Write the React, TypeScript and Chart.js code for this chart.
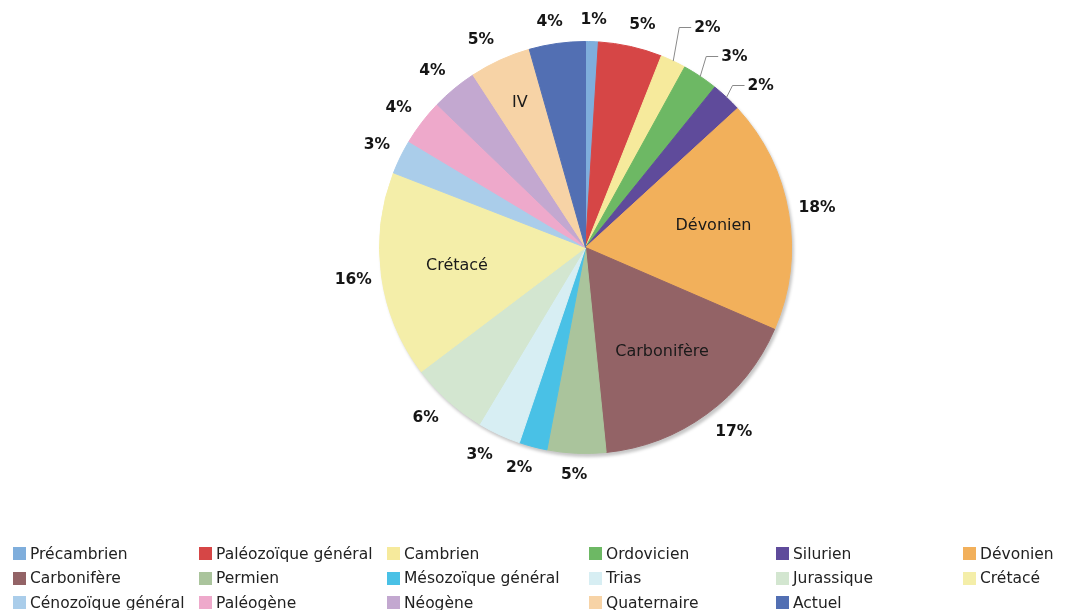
import React, { useEffect, useRef } from "react";
import { Chart, registerables } from "chart.js";

Chart.register(...registerables);

const periods = [
  "Précambrien", "Paléozoïque général", "Cambrien", "Ordovicien", "Silurien", "Dévonien",
  "Carbonifère", "Permien", "Mésozoïque général", "Trias", "Jurassique", "Crétacé",
  "Cénozoïque général", "Paléogène", "Néogène", "Quaternaire", "Actuel",
];
const shares = [1.0, 5.0, 2.0, 2.8, 2.4, 18.3, 16.9, 4.6, 2.2, 3.4, 6.1, 16.2, 2.7, 3.6, 3.6, 4.8, 4.4];
const colors = [
  "#7FAEDC", "#D64646", "#F6EA9C", "#6DB864", "#5F4B9B", "#F2B05B",
  "#936366", "#AAC49C", "#49C1E6", "#D7EEF3", "#D3E6D0", "#F4EEA9",
  "#AACDEA", "#EEA9CB", "#C3A8D0", "#F7D3A6", "#526FB3",
];
const innerLabels = ["", "", "", "", "", "Dévonien", "Carbonifère", "", "", "", "", "Crétacé", "", "", "", "IV", ""];
const calloutSlices = ["Cambrien", "Ordovicien", "Silurien"];

const legendCols = [13, 199, 387, 589, 776, 963];
const legendRows = [553.5, 578, 602.5];

const clamp = (v: number) => Math.max(-1, Math.min(1, v));

const pieLabels = {
  id: "pieLabels",
  beforeDatasetsDraw(chart: any) {
    const arc = chart.getDatasetMeta(0).data[0];
    if (!arc) return;
    const { x, y, outerRadius } = arc.getProps(["x", "y", "outerRadius"], true);
    const ctx = chart.ctx;
    ctx.save();
    ctx.beginPath();
    ctx.arc(x + 2, y + 3, outerRadius + 0.5, 0, Math.PI * 2);
    ctx.fillStyle = "rgba(0,0,0,0.22)";
    ctx.filter = "blur(1.5px)";
    ctx.fill();
    ctx.restore();
  },
  afterDatasetsDraw(chart: any) {
    const meta = chart.getDatasetMeta(0);
    const ds = chart.data.datasets[0].data as number[];
    const total = ds.reduce((a, b) => a + b, 0);
    const labels = chart.data.labels as string[];
    const ctx = chart.ctx;
    ctx.save();
    let k = 0;
    meta.data.forEach((arc: any, i: number) => {
      const { x, y, startAngle, endAngle, outerRadius: R } = arc.getProps(
        ["x", "y", "startAngle", "endAngle", "outerRadius"], true);
      const mid = (startAngle + endAngle) / 2;
      const c = Math.cos(mid), s = Math.sin(mid);
      const pct = Math.round((ds[i] / total) * 100) + "%";
      ctx.font = 'bold 15.5px "DejaVu Sans"';
      ctx.fillStyle = "#151515";
      if (calloutSlices.includes(labels[i])) {
        const sx = x + c * R, sy = y + s * R;
        const ey = y - R - 14 + 29 * k;
        const ex = sx + 6;
        const endX = ex + 12;
        ctx.strokeStyle = "#8a8a8a";
        ctx.lineWidth = 1;
        ctx.beginPath();
        ctx.moveTo(sx, sy);
        ctx.lineTo(ex, ey);
        ctx.lineTo(endX, ey);
        ctx.stroke();
        ctx.textAlign = "left";
        ctx.textBaseline = "middle";
        ctx.fillText(pct, endX + 3, ey);
        k++;
      } else {
        const w = ctx.measureText(pct).width;
        const h = 14;
        const gap = 9 + 6 * Math.abs(s);
        const px = x + c * (R + gap), py = y + s * (R + gap);
        ctx.textAlign = "center";
        ctx.textBaseline = "middle";
        ctx.fillText(pct, px + (w / 2) * clamp(3 * c), py + (h / 2) * clamp(3 * s));
      }
      const inner = innerLabels[i];
      if (inner) {
        const span = endAngle - startAngle;
        const r = span < 0.45 ? 0.77 * R : 0.63 * R;
        ctx.font = '16px "DejaVu Sans"';
        ctx.fillStyle = "#1a1a1a";
        ctx.textAlign = "center";
        ctx.textBaseline = "middle";
        ctx.fillText(inner, x + c * r, y + s * r);
      }
    });
    ctx.restore();
  },
};

export default function App() {
  const ref = useRef<HTMLCanvasElement>(null);
  useEffect(() => {
    document.body.style.margin = "0";
    const chart = new Chart(ref.current!, {
      type: "pie",
      data: {
        labels: periods,
        datasets: [{
          data: shares,
          backgroundColor: colors,
          borderColor: colors,
          borderWidth: 1,
        }],
      },
      options: {
        responsive: false,
        animation: false,
        layout: { padding: { top: 41, bottom: 156, left: 379, right: 283 } },
        plugins: { legend: { display: false }, tooltip: { enabled: false } },
      },
      plugins: [pieLabels],
    });
    return () => chart.destroy();
  }, []);

  return (
    <div style={{ position: "relative", width: 1075, height: 610, overflow: "hidden", background: "#fff" }}>
      <canvas ref={ref} width={1075} height={610} style={{ position: "absolute", left: 0, top: 0 }} />
      {periods.map((p, i) => {
        const col = i % 6;
        const row = Math.floor(i / 6);
        return (
          <div key={p} style={{
            position: "absolute", left: legendCols[col], top: legendRows[row] - 10, height: 20,
            display: "flex", alignItems: "center", whiteSpace: "nowrap",
            fontFamily: '"DejaVu Sans"', fontSize: 15.5, color: "#222",
          }}>
            <span style={{ display: "inline-block", width: 13, height: 13, background: colors[i], marginRight: 4 }} />
            {p}
          </div>
        );
      })}
    </div>
  );
}
